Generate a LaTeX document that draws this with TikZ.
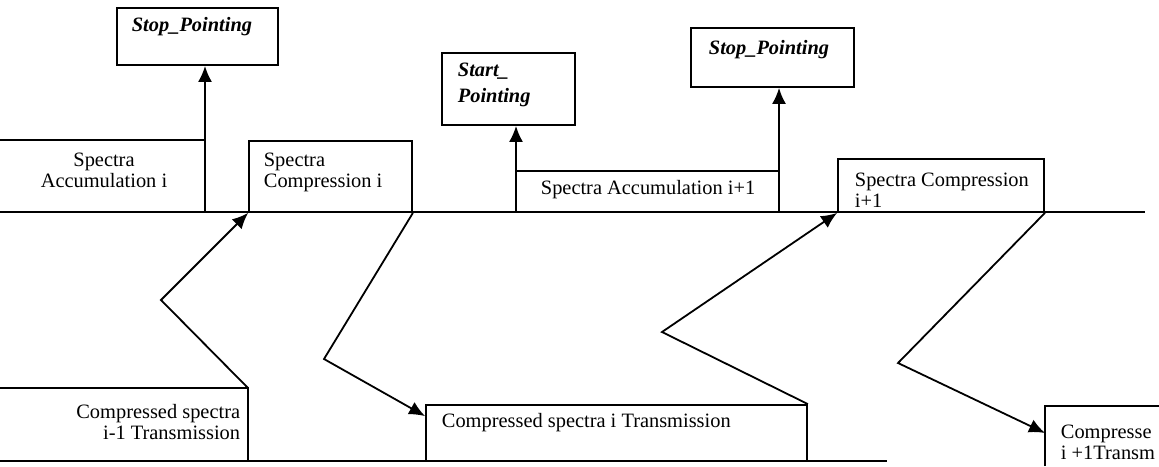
\documentclass[tikz,border=0pt]{standalone}
\usepackage{fontspec}
\setmainfont{Liberation Serif}
\usetikzlibrary{fit,arrows.meta}
\begin{document}
\begin{tikzpicture}[x=0.5pt,y=-0.5pt,line width=0.9pt,
  box/.style={draw,inner sep=0pt},
  txt/.style={inner sep=0pt,font=\fontsize{10.2}{10.5}\selectfont},
  bi/.style={inner sep=0pt,font=\fontsize{10.2}{10.5}\selectfont\bfseries\itshape},
  arr/.style={-{Latex[length=8pt,width=7pt]}}]
\useasboundingbox (0,0) rectangle (1159,466);
\clip (0,0) rectangle (1159,466);
% main time lines
\coordinate (L0) at (0,212); \coordinate (L1) at (1145,212);
\draw (L0) -- (L1);
\coordinate (B0) at (0,461); \coordinate (B1) at (887,461);
\draw (B0) -- (B1);
% Stop_Pointing 1
\node[box,fit={(117,8) (278,65)}] (stop1) {};
\node[bi,anchor=west] (stop1t) at (131,27) {Stop\_Pointing};
% Spectra Accumulation i
\coordinate (acc1tl) at (0,140); \coordinate (acc1tr) at (205,140); \coordinate (acc1br) at (205,212);
\draw (acc1tl) -- (acc1tr);
\node[txt,align=center] (acc1t) at (104,170) {Spectra\\Accumulation i};
\draw[arr] (acc1br) -- (acc1tr) -- (stop1.south -| acc1tr);
% Spectra Compression i
\node[box,fit={(249,141) (412,212)}] (comp1) {};
\node[txt,align=left,anchor=west] (comp1t) at (263,172) {Spectra\\Compression i};
% Start_Pointing
\node[box,fit={(442,53) (575,125)}] (start) {};
\node[bi,align=left,anchor=west] (startt) at (457,85) {Start\_\\[2.5pt]Pointing};
\coordinate (acc2bl) at (516,212); \coordinate (acc2tl) at (516,171);
\coordinate (acc2tr) at (779,171); \coordinate (acc2br) at (779,212);
\draw[arr] (acc2bl) -- (start.south -| acc2bl);
\draw (acc2tl) -- (acc2tr);
\node[txt,anchor=west] (acc2t) at (540,190) {Spectra Accumulation i+1};
% Stop_Pointing 2
\node[box,fit={(691,28) (854,87)}] (stop2) {};
\node[bi,anchor=west] (stop2t) at (708,50) {Stop\_Pointing};
\draw[arr] (acc2br) -- (stop2.south -| acc2br);
% Spectra Compression i+1
\node[box,fit={(838,159) (1044,212)}] (comp2) {};
\node[txt,align=left,anchor=west] (comp2t) at (854,190) {Spectra Compression\\i+1};
% Compressed spectra i-1 Transmission
\coordinate (tx0tl) at (0,388); \coordinate (tx0tr) at (248,388);
\draw (tx0tl) -- (tx0tr) -- (tx0tr |- B0);
\node[txt,align=right,anchor=east] (tx0t) at (241,422) {Compressed spectra\\i-1 Transmission};
% Compressed spectra i Transmission
\node[box,fit={(426,405) (807,461)}] (tx1) {};
\node[txt,anchor=west] (tx1t) at (441,423) {Compressed spectra i Transmission};
% Compressed spectra i+1 Transmission (cut at the edge)
\coordinate (tx2bl) at (1045,466); \coordinate (tx2tl) at (1045,406); \coordinate (tx2tr) at (1159,406);
\draw (tx2bl) -- (tx2tl) -- (tx2tr);
\node[txt,align=left,anchor=west] (tx2t) at (1060,442) {Compresse\\i +1Transm};
% zigzag connectors
\coordinate (z1) at (161,300);
\draw[arr] (tx0tr) -- (z1) -- (comp1.south west);
\coordinate (z2) at (324,359);
\draw[arr] (comp1.south east) -- (z2) -- ([yshift=-6pt]tx1.north west);
\coordinate (z3) at (662,332);
\draw[arr] (tx1.north east) -- (z3) -- (comp2.south west);
\coordinate (z4) at (898,363);
\draw[arr] (comp2.south east) -- (z4) -- ([yshift=-13.5pt]tx2tl);
\end{tikzpicture}
\end{document}
